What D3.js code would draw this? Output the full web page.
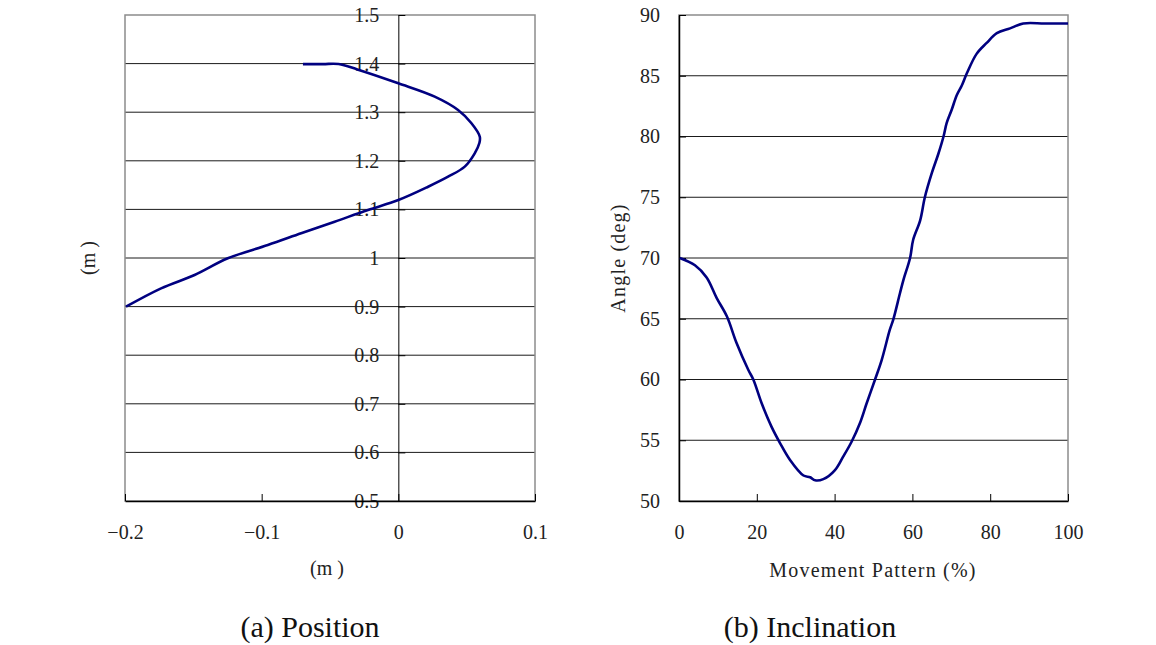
<!DOCTYPE html>
<html><head><meta charset="utf-8">
<script src="https://cdn.jsdelivr.net/npm/d3@7"></script>
<style>
body{margin:0;background:#fff;}
text{font-family:"Liberation Serif","DejaVu Serif",serif;}
</style></head>
<body><svg id="c" width="1156" height="645"></svg>
<script>
// ---- data ----
const posX = [-0.0698,-0.055,-0.0437,-0.030,0.0,0.0266,0.0437,0.0535,0.0596,0.0593,0.0559,0.0486,0.0364,0.0218,0.0,-0.0222,-0.0466,-0.0711,-0.0955,-0.1248,-0.1491,-0.1736,-0.1993];
const posY = [1.399,1.399,1.399,1.388,1.3595,1.332,1.3045,1.2772,1.2496,1.2366,1.2154,1.188,1.1673,1.1467,1.1193,1.0988,1.0747,1.0508,1.0267,0.9994,0.965,0.9376,0.8998];
const posXTicks = [-0.2,-0.1,0,0.1];
const posXTickLabels = ["\u22120.2","\u22120.1","0","0.1"];
const posYTicks = [0.5,0.6,0.7,0.8,0.9,1.0,1.1,1.2,1.3,1.4,1.5];
const posYTickLabels = ["0.5","0.6","0.7","0.8","0.9","1","1.1","1.2","1.3","1.4","1.5"];

const incP = [0.2,4.1,7.1,9.7,12.3,14.8,17.8,19.1,21.3,23.8,26.0,28.5,32.0,33.7,35.0,37.1,40.1,42.2,44.4,46.5,48.2,50.4,52.1,54.2,55.1,56.8,57.7,59.4,60.2,62.0,63.2,65.0,66.7,68.0,68.8,70.1,71.4,72.7,74.0,76.5,79.1,81.7,85.1,88.5,94,100];
const incA = [70.0,69.4,68.4,66.7,65.2,63.0,60.8,60.0,58.0,56.1,54.75,53.4,52.1,51.95,51.7,51.8,52.55,53.65,54.9,56.4,58.0,60.0,61.6,64.1,64.95,67.1,68.2,70.0,71.5,73.1,75.0,77.0,78.6,80.0,81.1,82.2,83.4,84.2,85.2,86.8,87.7,88.5,88.9,89.3,89.3,89.3];
const incXTicks = [0,20,40,60,80,100];
const incYTicks = [50,55,60,65,70,75,80,85,90];

const svg = d3.select("#c");
const FS = 20;
const TXT = "#222";

// ---------- Left chart: Position ----------
{
  const L=125,R=535,T=15,B=501;
  const x = d3.scaleLinear().domain([-0.2,0.1]).range([L,R]);
  const y = d3.scaleLinear().domain([0.5,1.5]).range([B,T]);
  const g = svg.append("g");
  g.selectAll("line.grid").data(posYTicks.filter(v=>v>0.5&&v<1.5)).join("line")
    .attr("x1",L).attr("x2",R).attr("y1",d=>y(d)).attr("y2",d=>y(d))
    .attr("stroke","#1a1a1a").attr("stroke-width",1);
  g.append("rect").attr("x",L).attr("y",T).attr("width",R-L).attr("height",B-T)
    .attr("fill","none").attr("stroke","#8c8c8c").attr("stroke-width",1.5);
  const ya = d3.axisLeft(y).tickValues(posYTicks).tickFormat((d,i)=>posYTickLabels[i])
    .tickSizeInner(-7).tickSizeOuter(0).tickPadding(19);
  const yg = g.append("g").attr("transform",`translate(${x(0)},0)`).call(ya);
  yg.select(".domain").attr("stroke","#000");
  yg.selectAll("text").attr("font-size",FS).attr("fill",TXT).style("font-family","Liberation Serif");
  const xa = d3.axisBottom(x).tickValues(posXTicks).tickFormat((d,i)=>posXTickLabels[i])
    .tickSizeInner(-7).tickSizeOuter(0).tickPadding(24);
  const xg = g.append("g").attr("transform",`translate(0,${B})`).call(xa);
  xg.select(".domain").attr("stroke","#000").attr("stroke-width",1.5);
  xg.selectAll("text").attr("font-size",FS).attr("fill",TXT).style("font-family","Liberation Serif");
  g.append("path").datum(posX.map((v,i)=>[v,posY[i]]))
    .attr("d",d3.line().x(d=>x(d[0])).y(d=>y(d[1])).curve(d3.curveCatmullRom.alpha(0.5)))
    .attr("fill","none").attr("stroke","#000080").attr("stroke-width",2.6);
  g.append("text").attr("x",327).attr("y",575).attr("text-anchor","middle")
    .attr("font-size",FS).attr("fill",TXT).text("(m )");
  g.append("text").attr("transform","translate(95,258) rotate(-90)").attr("text-anchor","middle")
    .attr("font-size",FS).attr("fill",TXT).text("(m )");
}

// ---------- Right chart: Inclination ----------
{
  const L=679,R=1068,T=15,B=501;
  const x = d3.scaleLinear().domain([0,100]).range([L,R]);
  const y = d3.scaleLinear().domain([50,90]).range([B,T]);
  const g = svg.append("g");
  g.selectAll("line.grid").data(incYTicks.filter(v=>v>50&&v<90)).join("line")
    .attr("x1",L).attr("x2",R).attr("y1",d=>y(d)).attr("y2",d=>y(d))
    .attr("stroke","#1a1a1a").attr("stroke-width",1);
  g.append("rect").attr("x",L).attr("y",T).attr("width",R-L).attr("height",B-T)
    .attr("fill","none").attr("stroke","#8c8c8c").attr("stroke-width",1.5);
  const ya = d3.axisLeft(y).tickValues(incYTicks).tickSizeInner(-7).tickSizeOuter(0).tickPadding(19);
  const yg = g.append("g").attr("transform",`translate(${L},0)`).call(ya);
  yg.select(".domain").attr("stroke","#000").attr("stroke-width",1.5);
  yg.selectAll("text").attr("font-size",FS).attr("fill",TXT).style("font-family","Liberation Serif");
  const xa = d3.axisBottom(x).tickValues(incXTicks).tickSizeInner(-7).tickSizeOuter(0).tickPadding(24);
  const xg = g.append("g").attr("transform",`translate(0,${B})`).call(xa);
  xg.select(".domain").attr("stroke","#000").attr("stroke-width",1.5);
  xg.selectAll("text").attr("font-size",FS).attr("fill",TXT).style("font-family","Liberation Serif");
  g.append("path").datum(incP.map((v,i)=>[v,incA[i]]))
    .attr("d",d3.line().x(d=>x(d[0])).y(d=>y(d[1])).curve(d3.curveCatmullRom.alpha(0.5)))
    .attr("fill","none").attr("stroke","#000080").attr("stroke-width",2.6);
  g.append("text").attr("x",873).attr("y",577).attr("text-anchor","middle")
    .attr("font-size",FS).attr("fill",TXT).attr("letter-spacing","1.2px").text("Movement Pattern (%)");
  g.append("text").attr("transform","translate(625,258) rotate(-90)").attr("text-anchor","middle")
    .attr("font-size",FS).attr("fill",TXT).attr("letter-spacing","1.2px").text("Angle (deg)");
}

// captions
svg.append("text").attr("x",310).attr("y",637).attr("text-anchor","middle")
  .attr("font-size",30).attr("fill","#111").text("(a) Position");
svg.append("text").attr("x",810).attr("y",637).attr("text-anchor","middle")
  .attr("font-size",30).attr("fill","#111").text("(b) Inclination");
</script></body></html>
